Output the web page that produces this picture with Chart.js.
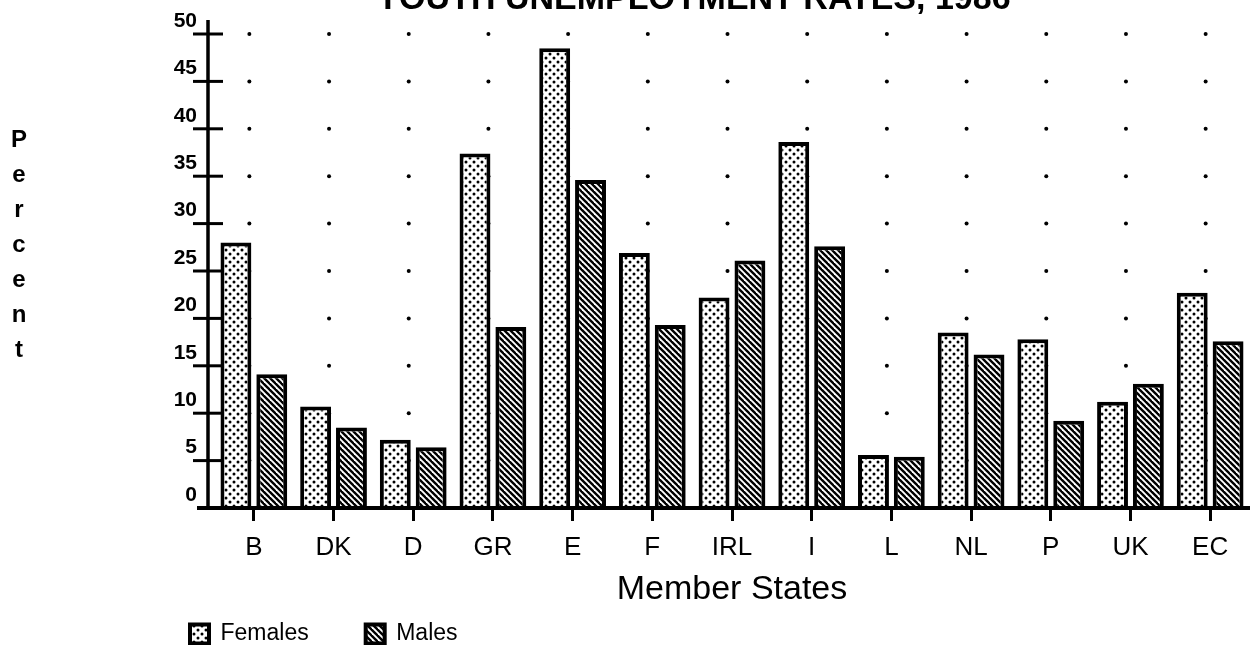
<!DOCTYPE html>
<html>
<head>
<meta charset="utf-8">
<script src="https://cdn.jsdelivr.net/npm/chart.js@4.4.1/dist/chart.umd.min.js"></script>
<style>
  html, body { margin: 0; padding: 0; background: #fff; }
  #wrap { position: relative; width: 1250px; height: 645px; overflow: hidden; }
  #c { position: absolute; left: 0; top: 0; }
  #ytitle {
    position: absolute; left: 0; top: 121px; width: 38px;
    font-family: 'Liberation Sans', Arial, sans-serif; font-weight: bold;
    font-size: 24px; line-height: 35px; text-align: center; color: #000;
  }
</style>
</head>
<body>
<div id="wrap">
  <canvas id="c" width="1250" height="645"></canvas>
  <div id="ytitle">P<br>e<br>r<br>c<br>e<br>n<br>t</div>
</div>
<script>
// ---- data ----
const chartTitle = 'YOUTH UNEMPLOYMENT RATES, 1986';
const categories = ['B', 'DK', 'D', 'GR', 'E', 'F', 'IRL', 'I', 'L', 'NL', 'P', 'UK', 'EC'];
const females = [28.0, 10.7, 7.2, 37.4, 48.5, 26.9, 22.2, 38.6, 5.6, 18.5, 17.8, 11.2, 22.7];
const males   = [14.1, 8.5, 6.4, 19.1, 34.6, 19.3, 26.1, 27.6, 5.4, 16.2, 9.2, 13.1, 17.6];
const yTicks  = [0, 5, 10, 15, 20, 25, 30, 35, 40, 45, 50];
const xTitle  = 'Member States';
const seriesNames = ['Females', 'Males'];

// ---- patterns ----
function dotPattern() {
  const c = document.createElement('canvas');
  c.width = 8; c.height = 8;
  const g = c.getContext('2d');
  g.fillStyle = '#fff'; g.fillRect(0, 0, 8, 8);
  g.fillStyle = '#000';
  [[2, 2], [6, 6]].forEach(([x, y]) => { g.beginPath(); g.arc(x, y, 1.5, 0, Math.PI * 2); g.fill(); });
  return g.createPattern(c, 'repeat');
}
function hatchPattern() {
  const s = 6;
  const c = document.createElement('canvas');
  c.width = s; c.height = s;
  const g = c.getContext('2d');
  g.fillStyle = '#fff'; g.fillRect(0, 0, s, s);
  g.strokeStyle = '#000'; g.lineWidth = 2.4;
  [-s, 0, s].forEach(o => { g.beginPath(); g.moveTo(o - 1, -1); g.lineTo(o + s + 1, s + 1); g.stroke(); });
  return g.createPattern(c, 'repeat');
}
const ctx = document.getElementById('c').getContext('2d');
const fPat = dotPattern();
const mPat = hatchPattern();

// ---- plugins: dot grid and axes ----
const dotGrid = {
  id: 'dotGrid',
  beforeDatasetsDraw(chart) {
    const {ctx, scales: {x, y}} = chart;
    ctx.save();
    ctx.fillStyle = '#000';
    categories.forEach((cat, i) => {
      yTicks.forEach(v => {
        if (v === 0) return;
        ctx.beginPath();
        ctx.arc(x.getPixelForValue(i) - 4.5, y.getPixelForValue(v), 2, 0, Math.PI * 2);
        ctx.fill();
      });
    });
    ctx.restore();
  }
};
const axesLines = {
  id: 'axesLines',
  afterDatasetsDraw(chart) {
    const {ctx, chartArea, scales: {y}} = chart;
    const ax = chartArea.left - 6;
    const y0 = y.getPixelForValue(0);
    ctx.save();
    ctx.strokeStyle = '#000';
    ctx.lineWidth = 4;
    ctx.beginPath(); ctx.moveTo(ax - 11, y0); ctx.lineTo(chart.width, y0); ctx.stroke();
    ctx.lineWidth = 3.5;
    ctx.beginPath(); ctx.moveTo(ax, y.getPixelForValue(50) - 14); ctx.lineTo(ax, y0); ctx.stroke();
    ctx.lineWidth = 3;
    yTicks.forEach(v => {
      if (v === 0) return;
      const py = y.getPixelForValue(v);
      ctx.beginPath(); ctx.moveTo(ax - 15, py); ctx.lineTo(ax + 15, py); ctx.stroke();
    });
    ctx.restore();
  }
};

Chart.defaults.font.family = "'Liberation Sans', Arial, sans-serif";
Chart.defaults.color = '#000';

new Chart(ctx, {
  type: 'bar',
  data: {
    labels: categories,
    datasets: [
      { label: seriesNames[0], data: females, backgroundColor: fPat, borderColor: '#000', borderWidth: 4,
        categoryPercentage: 0.9, barPercentage: 0.861 },
      { label: seriesNames[1], data: males, backgroundColor: mPat, borderColor: '#000', borderWidth: 4,
        categoryPercentage: 0.9, barPercentage: 0.861 }
    ]
  },
  options: {
    responsive: false,
    animation: false,
    layout: { padding: { left: 133, right: -4, top: 0, bottom: -10.5 } },
    plugins: {
      tooltip: { enabled: false },
      title: {
        display: true, text: chartTitle, color: '#000',
        font: { size: 34, weight: 'bold' },
        padding: { top: -21, bottom: 14.2 }
      },
      legend: {
        position: 'bottom', align: 'start',
        labels: { boxWidth: 19, boxHeight: 19, padding: 57, color: '#000', font: { size: 23 } }
      }
    },
    scales: {
      x: {
        offset: true,
        border: { display: false },
        grid: { display: true, drawOnChartArea: false, drawTicks: true, tickLength: 13, offset: false, lineWidth: 3, color: '#000' },
        ticks: { padding: 11, maxRotation: 0, autoSkip: false, color: '#000',
                 font: { family: "'Liberation Sans Narrow', 'Liberation Sans', Arial, sans-serif", size: 26 } },
        title: { display: true, text: xTitle, color: '#000', font: { size: 34 }, padding: { top: 0, bottom: -44.9 } },
        afterFit(scale) { scale.height = 57.5; }
      },
      y: {
        min: 0, max: 50,
        border: { display: false },
        grid: { display: false, drawTicks: false },
        afterBuildTicks(scale) { scale.ticks = yTicks.map(v => ({ value: v })); },
        ticks: { padding: 17, labelOffset: -13, color: '#000', font: { size: 21, weight: 'bold' } },
        afterFit(scale) { scale.width = 81; }
      }
    }
  },
  plugins: [dotGrid, axesLines]
});
</script>
</body>
</html>
